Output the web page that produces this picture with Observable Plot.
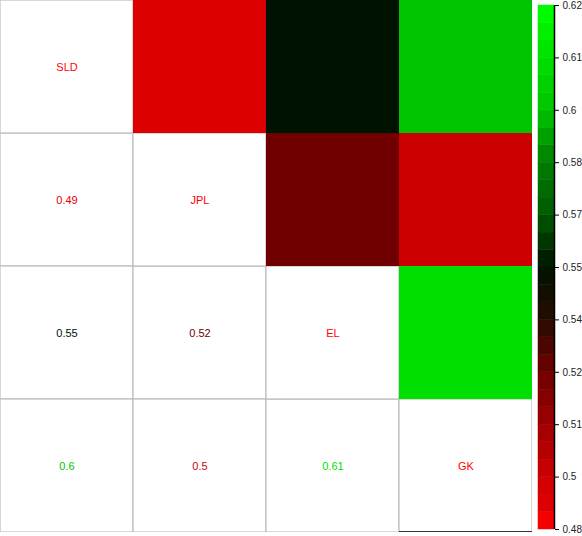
<!DOCTYPE html>
<html>
<head>
<meta charset="utf-8">
<script src="https://cdn.jsdelivr.net/npm/d3@7"></script>
<script src="https://cdn.jsdelivr.net/npm/@observablehq/plot@0.6"></script>
<style>
  html, body { margin: 0; padding: 0; background: #fff; }
  #wrap { position: relative; width: 582px; height: 536px; font-family: "Liberation Sans", Arial, sans-serif; }
  #main { position: absolute; left: 0; top: 0; }
  #bar { position: absolute; left: 536px; top: 0; }
</style>
</head>
<body>
<div id="wrap"><div id="main"></div><div id="bar"></div></div>
<script>
// Variables (matrix order)
const variables = ["SLD", "JPL", "EL", "GK"];
// Pairwise values (row variable, column variable, value)
const pairRow = ["JPL", "EL", "EL", "GK", "GK", "GK"];
const pairCol = ["SLD", "SLD", "JPL", "SLD", "JPL", "EL"];
const pairValue = [0.49, 0.55, 0.52, 0.6, 0.5, 0.61];
// Colour bar tick labels (as printed, bottom to top, evenly spaced on the bar)
const barTickLabels = ["0.48", "0.5", "0.51", "0.52", "0.54", "0.55", "0.57", "0.58", "0.6", "0.61", "0.62"];
// Colour stops of the red-black-green palette
const colorStops = [0.48, 0.49, 0.5, 0.52, 0.55, 0.6, 0.61, 0.62];
const colorStopColors = ["#ff0000", "#dd0000", "#cc0000", "#700000", "#001200", "#00c400", "#00e000", "#00ff00"];

const colorFn = d3.scaleLinear().domain(colorStops).range(colorStopColors).clamp(true);

const pairs = pairValue.map((v, i) => ({row: pairRow[i], col: pairCol[i], value: v}));
const upper = pairs.map(d => ({x: d.row, y: d.col, value: d.value}));
const lower = pairs.map(d => ({x: d.col, y: d.row, value: d.value}));
const diag = variables.map(v => ({x: v, y: v, label: v}));

const N = 532;
const main = Plot.plot({
  width: N, height: N,
  margin: 0,
  style: {fontFamily: "Liberation Sans, Arial, sans-serif", background: "#fff"},
  x: {domain: variables, padding: 0, axis: null},
  y: {domain: variables, padding: 0, axis: null},
  color: {type: "linear", domain: colorStops, range: colorStopColors, interpolate: "rgb", clamp: true},
  marks: [
    Plot.cell(lower.concat(diag), {x: "x", y: "y", fill: "white", stroke: "#bdbdbd", strokeWidth: 1.2}),
    Plot.cell(upper, {x: "x", y: "y", fill: "value"}),
    Plot.text(lower, {x: "x", y: "y", text: d => String(d.value), fill: "value", fontSize: 11}),
    Plot.text(diag, {x: "x", y: "y", text: "label", fill: "#ff0000", fontSize: 11}),
    Plot.tickY(diag.filter(d => d.label === "GK"), {x: "x", y: "y", dy: 66, stroke: "black", strokeWidth: 1.5})
  ]
});
document.getElementById("main").appendChild(main);

// colour bar: positions are tick indices, colours from the printed tick values
const nT = barTickLabels.length;
const tickNum = barTickLabels.map(Number);
const sub = 3;
const bands = d3.range((nT - 1) * sub).map(k => {
  const p1 = k / sub, p2 = (k + 1) / sub, pm = (p1 + p2) / 2;
  const i = Math.floor(pm), f = pm - i;
  const v = tickNum[i] + f * (tickNum[i + 1] - tickNum[i]);
  return {y1: p1, y2: p2, color: colorFn(v)};
});

const bar = Plot.plot({
  width: 46, height: 536,
  marginLeft: 2, marginRight: 28, marginTop: 5, marginBottom: 7,
  style: {fontFamily: "Liberation Sans, Arial, sans-serif", background: "transparent", fontSize: "10px"},
  x: {domain: [0, 1], axis: null},
  y: {domain: [0, nT - 1], axis: null},
  marks: [
    Plot.rect(bands, {x1: 0, x2: 1, y1: "y1", y2: "y2", fill: "color", stroke: "color", strokeWidth: 0.5}),
    Plot.ruleX([1], {stroke: "black", strokeWidth: 1.5}),
    Plot.axisY({anchor: "right", ticks: d3.range(nT), tickFormat: (d, i) => barTickLabels[d], tickSize: 4, tickPadding: 4, fontSize: 10, stroke: "black", fill: "#222"})
  ]
});
document.getElementById("bar").appendChild(bar);
</script>
</body>
</html>
